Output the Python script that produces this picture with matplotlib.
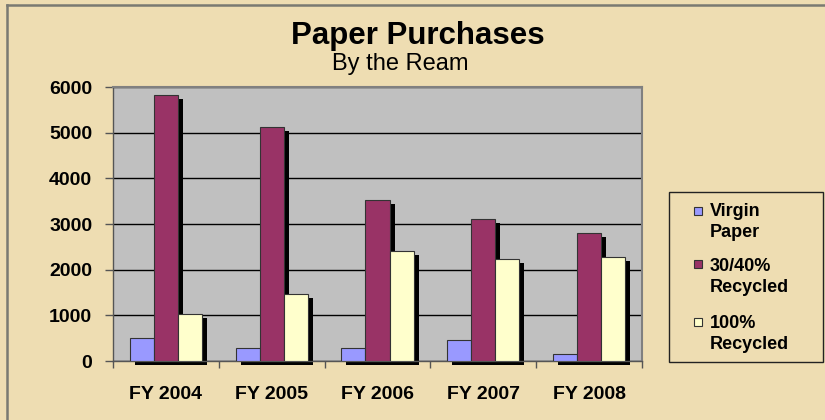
import matplotlib
matplotlib.use('Agg')
import matplotlib.pyplot as plt
import matplotlib.transforms as mtransforms
from matplotlib.patches import Rectangle
from matplotlib.lines import Line2D
import numpy as np

plt.rcParams['font.family'] = ['Liberation Sans', 'DejaVu Sans']

years = ['FY 2004', 'FY 2005', 'FY 2006', 'FY 2007', 'FY 2008']
series_names = ['Virgin\nPaper', '30/40%\nRecycled', '100%\nRecycled']
virgin = [500, 280, 280, 450, 150]
recycled_30_40 = [5830, 5120, 3520, 3110, 2800]
recycled_100 = [1030, 1470, 2400, 2230, 2270]
colors = ['#9999FF', '#993366', '#FFFFCC']

W, H = 825, 420
BG = '#EEDDB2'


def fx(px):
    return px / W


def fy(py):
    return 1 - py / H


fig = plt.figure(figsize=(W / 100, H / 100), dpi=100)
fig.patch.set_facecolor(BG)

# outer frame (only top and left visible in the original)
fig.add_artist(Line2D([fx(7), fx(825)], [fy(5), fy(5)], color='#7a7a72', lw=1.8))
fig.add_artist(Line2D([fx(7), fx(7)], [fy(5), fy(420)], color='#7a7a72', lw=1.8))

ax = fig.add_axes([fx(113), fy(361), fx(642) - fx(113), fy(87) - fy(361)])
ax.set_facecolor('#C0C0C0')

x = np.arange(len(years))
bw = 0.227
shadow = mtransforms.offset_copy(ax.transData, fig=fig, x=5, y=-4, units='dots')
all_series = [virgin, recycled_30_40, recycled_100]
for i, (vals, c) in enumerate(zip(all_series, colors)):
    pos = x + (i - 1) * bw
    ax.bar(pos, vals, width=bw, color='black', transform=shadow, zorder=2,
           clip_on=False, linewidth=0)
for i, (vals, c) in enumerate(zip(all_series, colors)):
    pos = x + (i - 1) * bw
    ax.bar(pos, vals, width=bw, color=c, edgecolor='#333333', linewidth=0.8, zorder=3)

ax.set_xlim(-0.5, len(years) - 0.5)
ax.set_ylim(0, 6000)
ax.set_yticks(range(0, 6001, 1000))
ax.yaxis.grid(True, color='black', linewidth=1.0, zorder=1)
ax.set_axisbelow(True)

ax.set_xticks(np.arange(-0.5, len(years), 1.0))
ax.set_xticklabels([])
ax.set_xticks(x, minor=True)
ax.set_xticklabels(years, minor=True, fontsize=14, fontweight='bold')
ax.tick_params(axis='x', which='major', length=5, width=1, color='#555555', direction='out')
ax.tick_params(axis='x', which='minor', length=0, pad=18)
ax.tick_params(axis='y', length=6, width=1, color='#555555', pad=9,
               labelsize=14)
for lab in ax.get_yticklabels():
    lab.set_fontweight('bold')

for side in ['top', 'right']:
    ax.spines[side].set_color('#808080')
    ax.spines[side].set_linewidth(1.5)
for side in ['left', 'bottom']:
    ax.spines[side].set_color('#555555')
    ax.spines[side].set_linewidth(1.0)

# titles
fig.text(fx(418), fy(44), 'Paper Purchases', ha='center', va='baseline',
         fontsize=22.5, fontweight='bold')
fig.text(fx(400), fy(70), 'By the Ream', ha='center', va='baseline', fontsize=17)

# legend drawn by hand
fig.add_artist(Rectangle((fx(669), fy(362)), fx(823) - fx(669), fy(192) - fy(362),
                         transform=fig.transFigure, facecolor='none',
                         edgecolor='#222222', linewidth=1.0))
marker_tops = [207, 260, 318]
line1 = [216, 271, 328]
for name, c, mt, b in zip(series_names, colors, marker_tops, line1):
    fig.add_artist(Rectangle((fx(694), fy(mt + 8)), fx(702) - fx(694), fy(mt) - fy(mt + 8),
                             transform=fig.transFigure, facecolor=c,
                             edgecolor='#333333', linewidth=0.8))
    first, second = name.split('\n')
    fig.text(fx(710), fy(b), first, ha='left', va='baseline', fontsize=13, fontweight='bold')
    fig.text(fx(710), fy(b + 21), second, ha='left', va='baseline', fontsize=13, fontweight='bold')

fig.savefig('out.png', dpi=100, facecolor=BG)
